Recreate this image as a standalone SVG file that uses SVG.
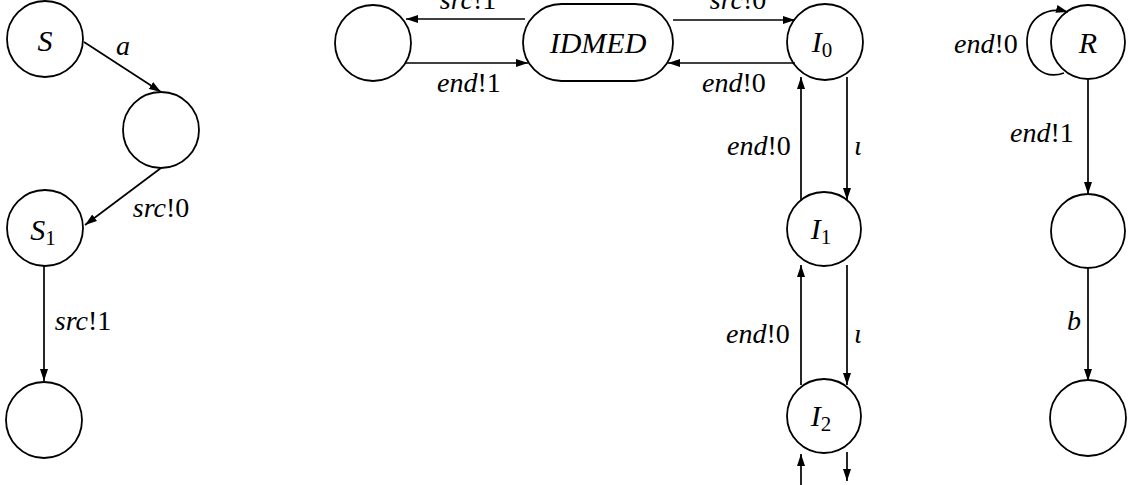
<svg xmlns="http://www.w3.org/2000/svg" width="1136" height="485" viewBox="0 0 1136 485">
  <style>
    .node { fill: #fff; stroke: #000; stroke-width: 1.8; }
    .edge { fill: none; stroke: #000; stroke-width: 1.7; marker-end: url(#arr); }
    .lbl { font-family: "Liberation Serif", "DejaVu Serif", serif; font-style: italic; font-size: 28px; fill: #000; }
    .nl { font-family: "Liberation Serif", "DejaVu Serif", serif; font-style: italic; font-size: 30px; fill: #000; text-anchor: middle; }
    .up { font-style: normal; }
    .sub { font-style: normal; font-size: 21px; }
    .m { text-anchor: middle; }
  </style>
  <defs>
    <marker id="arr" markerUnits="userSpaceOnUse" markerWidth="13" markerHeight="9" refX="12" refY="4.5" orient="auto">
      <path d="M0,0.5 L12,4.5 L0,8.5 z" fill="#000"/>
    </marker>
  </defs>

  <!-- nodes -->
  <g id="n-S"><circle class="node" cx="45" cy="39" r="38"/><text class="nl" x="45" y="51">S</text></g>
  <g id="n-a"><circle class="node" cx="161" cy="130" r="38"/></g>
  <g id="n-S1"><circle class="node" cx="45" cy="228" r="38"/><text class="nl" x="43" y="240">S<tspan class="sub" dy="5">1</tspan></text></g>
  <g id="n-S2"><circle class="node" cx="44" cy="420" r="38"/></g>

  <g id="n-left"><circle class="node" cx="373" cy="43" r="38"/></g>
  <g id="n-IDMED"><rect class="node" x="523" y="4" width="150" height="77" rx="38.5" ry="38.5"/><text class="nl" x="598" y="53">IDMED</text></g>
  <g id="n-I0"><circle class="node" cx="825" cy="42" r="38"/><text class="nl" x="822" y="52">I<tspan class="sub" dy="5">0</tspan></text></g>
  <g id="n-I1"><circle class="node" cx="824" cy="229" r="37"/><text class="nl" x="821" y="239">I<tspan class="sub" dy="5">1</tspan></text></g>
  <g id="n-I2"><circle class="node" cx="824" cy="416" r="37"/><text class="nl" x="821" y="426">I<tspan class="sub" dy="5">2</tspan></text></g>

  <g id="n-R"><circle class="node" cx="1088" cy="42" r="37"/><text class="nl" x="1088" y="53">R</text></g>
  <g id="n-R1"><circle class="node" cx="1088" cy="231" r="37"/></g>
  <g id="n-R2"><circle class="node" cx="1088" cy="418" r="38"/></g>

  <!-- connectors, drawn over the nodes so the self-loop shows across R -->
  <g id="edges">
    <path class="edge" d="M84,42 L161,92"/>
    <path class="edge" d="M161,168 L85,225"/>
    <path class="edge" d="M44,266 L44,381"/>

    <path class="edge" d="M525,19 L406,19"/>
    <path class="edge" d="M405,63 L528,63"/>
    <path class="edge" d="M673,20 L795,20"/>
    <path class="edge" d="M795,63 L668,63"/>

    <path class="edge" d="M847,77 L847,200"/>
    <path class="edge" d="M801,201 L801,77"/>
    <path class="edge" d="M847,265 L847,385"/>
    <path class="edge" d="M801,385 L801,265"/>
    <path class="edge" d="M801,485 L801,454"/>
    <path class="edge" d="M847,452 L847,481"/>

    <path class="edge" d="M1064,73 C1044,80 1027,66 1027,42 C1027,18 1046,6 1068,12"/>
    <path class="edge" d="M1088,80 L1088,194"/>
    <path class="edge" d="M1088,268 L1088,381"/>
  </g>

  <!-- edge labels -->
  <g id="labels">
    <text class="lbl m" x="123" y="55">a</text>
    <text class="lbl m" x="161" y="217">src<tspan class="up">!0</tspan></text>
    <text class="lbl m" x="83" y="330">src<tspan class="up">!1</tspan></text>

    <text class="lbl m" x="468" y="9">src<tspan class="up">!1</tspan></text>
    <text class="lbl m" x="469" y="92">end<tspan class="up">!1</tspan></text>
    <text class="lbl m" x="738" y="9">src<tspan class="up">!0</tspan></text>
    <text class="lbl m" x="734" y="92">end<tspan class="up">!0</tspan></text>

    <text class="lbl m" x="759" y="155">end<tspan class="up">!0</tspan></text>
    <text class="lbl m" x="858" y="155">ι</text>
    <text class="lbl m" x="758" y="343">end<tspan class="up">!0</tspan></text>
    <text class="lbl m" x="858" y="343">ι</text>

    <text class="lbl m" x="986" y="53">end<tspan class="up">!0</tspan></text>
    <text class="lbl m" x="1042" y="142">end<tspan class="up">!1</tspan></text>
    <text class="lbl m" x="1074" y="330">b</text>
  </g>
</svg>
